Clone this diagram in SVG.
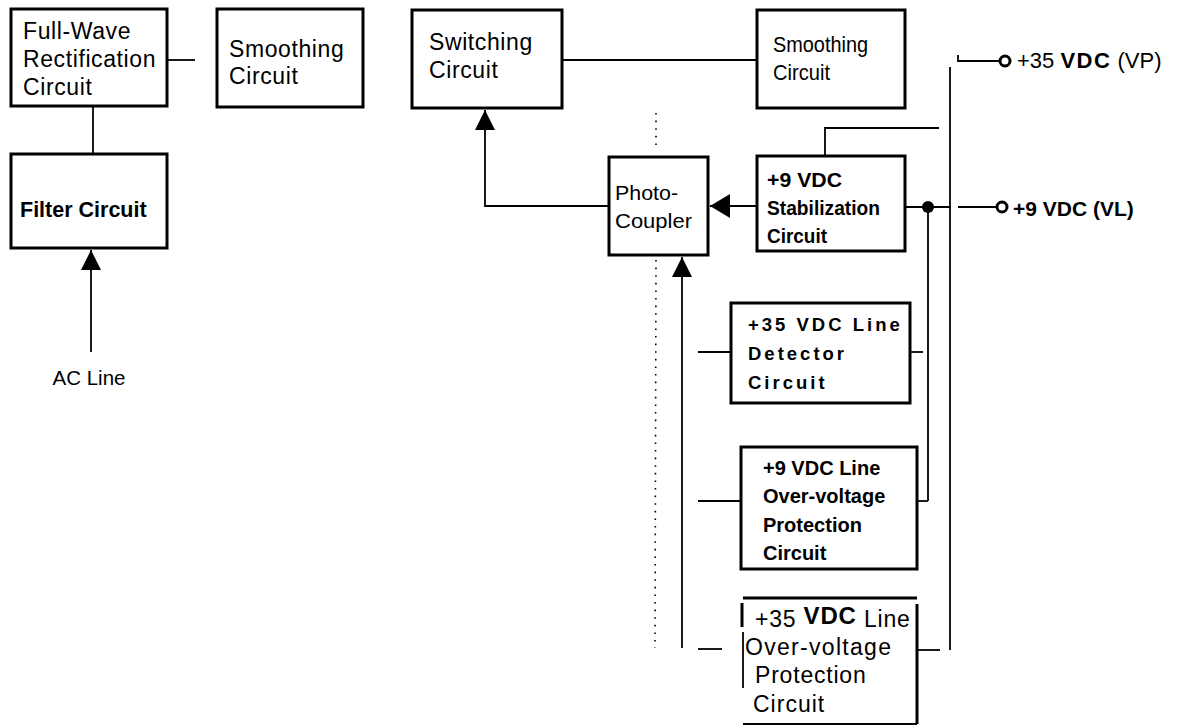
<svg xmlns="http://www.w3.org/2000/svg" width="1188" height="726" viewBox="0 0 1188 726">
<style>
.box{fill:#fff;stroke:#000;stroke-width:3}
.ln{fill:none;stroke:#000;stroke-width:1.8}
.thk{fill:none;stroke:#000;stroke-width:3}
.dot{fill:none;stroke:#000;stroke-width:1.6;stroke-dasharray:1.6 6}
text{font-family:"Liberation Sans",Arial,sans-serif;fill:#000}
.t{font-size:23px;letter-spacing:0.6px}
.b{font-weight:bold}
</style>
<defs>
<marker id="ah" markerUnits="userSpaceOnUse" markerWidth="22" markerHeight="22" refX="20" refY="10" orient="auto">
<path d="M0,0 L20,10 L0,20 z" fill="#000"/>
</marker>
<marker id="ah2" markerUnits="userSpaceOnUse" markerWidth="22" markerHeight="26" refX="20" refY="12" orient="auto">
<path d="M0,0 L20,12 L0,24 z" fill="#000"/>
</marker>
</defs>

<g id="connectors">
<line class="ln" x1="167" y1="60" x2="195" y2="60"/>
<line class="ln" x1="93" y1="106" x2="93" y2="154"/>
<line class="ln" x1="91" y1="352" x2="91" y2="250" marker-end="url(#ah)"/>
<line class="ln" x1="562" y1="60" x2="757" y2="60"/>
<polyline class="ln" points="609,206 485,206 485,110" marker-end="url(#ah)"/>
<line class="ln" x1="757" y1="206" x2="710" y2="206" marker-end="url(#ah2)"/>
<line class="ln" x1="682" y1="648" x2="682" y2="257" marker-end="url(#ah)"/>
<line class="dot" x1="656" y1="113" x2="656" y2="148"/>
<line class="dot" x1="656" y1="260" x2="655" y2="648"/>
<polyline class="ln" points="825,156 825,128 939,128"/>
<line class="ln" x1="906" y1="207" x2="950" y2="207"/>
<circle cx="928" cy="207" r="6" fill="#000"/>
<line class="ln" x1="928" y1="207" x2="928" y2="501"/>
<line class="ln" x1="950" y1="67" x2="950" y2="650"/>
<line class="ln" x1="958" y1="55" x2="958" y2="62"/>
<line class="ln" x1="958" y1="61" x2="999" y2="61"/>
<circle cx="1005" cy="61" r="5" fill="#fff" stroke="#000" stroke-width="3"/>
<line class="ln" x1="958" y1="207" x2="996" y2="207"/>
<circle cx="1002" cy="207" r="5" fill="#fff" stroke="#000" stroke-width="3"/>
<line class="ln" x1="698" y1="352" x2="731" y2="352"/>
<line class="ln" x1="910" y1="352" x2="923" y2="352"/>
<line class="ln" x1="698" y1="501" x2="741" y2="501"/>
<line class="ln" x1="917" y1="501" x2="928" y2="501"/>
<line class="ln" x1="698" y1="649" x2="722" y2="649"/>
<line class="ln" x1="917" y1="650" x2="940" y2="650"/>
</g>

<g id="fullwave">
<rect class="box" x="11" y="9" width="156" height="97"/>
<text class="t" x="23" y="39">Full-Wave</text>
<text class="t" x="23" y="67">Rectification</text>
<text class="t" x="23" y="95">Circuit</text>
</g>

<g id="smoothing1">
<rect class="box" x="217" y="9" width="146" height="98"/>
<text class="t" x="229" y="57">Smoothing</text>
<text class="t" x="229" y="84">Circuit</text>
</g>

<g id="filter">
<rect class="box" x="11" y="154" width="156" height="94"/>
<text class="b" x="20" y="217" font-size="21.5">Filter Circuit</text>
</g>

<g id="acline">
<text x="89" y="385" font-size="20.5" text-anchor="middle">AC Line</text>
</g>

<g id="switching">
<rect class="box" x="412" y="10" width="150" height="98"/>
<text class="t" x="429" y="50">Switching</text>
<text class="t" x="429" y="78">Circuit</text>
</g>

<g id="smoothing2">
<rect class="box" x="757" y="10" width="148" height="98"/>
<text x="773" y="52" font-size="22" textLength="95" lengthAdjust="spacingAndGlyphs">Smoothing</text>
<text x="773" y="80" font-size="22" textLength="57" lengthAdjust="spacingAndGlyphs">Circuit</text>
</g>

<g id="photocoupler">
<rect class="box" x="609" y="157" width="99" height="98"/>
<text x="615" y="200" font-size="21" textLength="63" lengthAdjust="spacingAndGlyphs">Photo-</text>
<text x="615" y="228" font-size="21" textLength="77" lengthAdjust="spacingAndGlyphs">Coupler</text>
</g>

<g id="stabilization">
<rect class="box" x="757" y="156" width="148" height="95"/>
<text class="b" x="767" y="187" font-size="21" textLength="75" lengthAdjust="spacingAndGlyphs">+9 VDC</text>
<text class="b" x="767" y="215" font-size="20" textLength="113" lengthAdjust="spacingAndGlyphs">Stabilization</text>
<text class="b" x="767" y="243" font-size="20" textLength="60" lengthAdjust="spacingAndGlyphs">Circuit</text>
</g>

<g id="vp">
<text x="1017" y="68" font-size="22">+35 <tspan class="b" letter-spacing="1.5">VDC</tspan> (VP)</text>
</g>

<g id="vl">
<text class="b" x="1013" y="216" font-size="21">+9 VDC (VL)</text>
</g>

<g id="detector">
<rect class="box" x="731" y="303" width="179" height="100"/>
<text class="b" x="748" y="331" font-size="18.5" letter-spacing="3">+35 VDC Line</text>
<text class="b" x="748" y="360" font-size="18.5" letter-spacing="3">Detector</text>
<text class="b" x="748" y="389" font-size="18.5" letter-spacing="3">Circuit</text>
</g>

<g id="ovp9">
<rect class="box" x="741" y="447" width="176" height="122"/>
<text class="b" x="763" y="475" font-size="20">+9 VDC Line</text>
<text class="b" x="763" y="503" font-size="20">Over-voltage</text>
<text class="b" x="763" y="532" font-size="20">Protection</text>
<text class="b" x="763" y="560" font-size="20">Circuit</text>
</g>

<g id="ovp35">
<line class="thk" x1="743" y1="598" x2="917" y2="598"/>
<line class="thk" x1="917" y1="604" x2="917" y2="724"/>
<line class="thk" x1="742" y1="603" x2="742" y2="627"/>
<line class="ln" x1="743" y1="632" x2="743" y2="688"/>
<line class="ln" x1="743" y1="724" x2="917" y2="724"/>
<text x="755" y="627" font-size="23" letter-spacing="0.8">+35 <tspan class="b" font-size="24" dy="-3">VDC</tspan> <tspan dy="3">Line</tspan></text>
<text x="745" y="655" font-size="23" letter-spacing="1.3">Over-voltage</text>
<text x="755" y="683" font-size="23" letter-spacing="0.8">Protection</text>
<text x="753" y="712" font-size="23" letter-spacing="1">Circuit</text>
</g>
</svg>
